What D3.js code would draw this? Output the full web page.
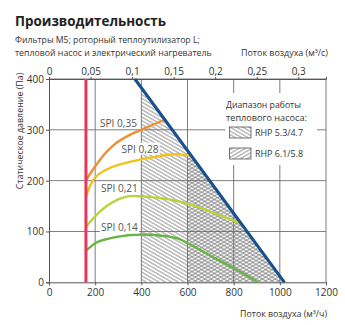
<!DOCTYPE html>
<html>
<head>
<meta charset="utf-8">
<script src="https://cdn.jsdelivr.net/npm/d3@7"></script>
<style>
  html, body { margin: 0; padding: 0; background: #fff; }
  svg { display: block; font-family: "Open Sans", "Noto Sans", sans-serif; }
</style>
</head>
<body>
<svg id="chart" width="345" height="325"></svg>
<script>
// Airflow in m³/h, static pressure in Pa
const flowTicks = [0, 200, 400, 600, 800, 1000, 1200];
const flowTicksPerSecond = [0, 0.05, 0.1, 0.15, 0.2, 0.25, 0.3];
const pressureTicks = [0, 100, 200, 300, 400];

// Maximum capacity line
const maxLine = [[372, 400], [1020, 0]];
// Minimum airflow
const minFlow = 160;
// Heat pump operating ranges start at these airflows
const rhpStart = [400, 600];
const rhpNames = ["RHP 5.3/4.7", "RHP 6.1/5.8"];

const spiNames = ["SPI 0,35", "SPI 0,28", "SPI 0,21", "SPI 0,14"];
const spi035 = [[160,200],[180,215],[200,228],[240,252],[280,270],[350,290],[400,300],[450,310],[502,320]];
const spi028 = [[160,168],[180,192],[200,206],[250,222],[300,231],[350,237],[400,242],[450,246],[500,250],[550,252],[617,249]];
const spi021 = [[160,109],[200,130],[250,150],[300,163],[365,170],[400,169],[480,166],[600,155],[700,139],[750,130],[835,115]];
const spi014 = [[160,62],[200,77],[250,85],[300,90],[400,94],[480,92],[560,86],[600,77],[650,65],[700,52],[800,28],[902,1]];
const spiSeries = [spi035, spi028, spi021, spi014];

const svg = d3.select("#chart");
const m = { left: 49, right: 326, top: 79, bottom: 282.3 };

const x = d3.scaleLinear().domain([0, 1200]).range([m.left, m.right]);
const xs = d3.scaleLinear().domain([0, 1200 / 3600]).range([m.left, m.right]);
const y = d3.scaleLinear().domain([0, 400]).range([m.bottom, m.top]);

const spiColors = ["#ef8f33", "#f4c21a", "#b8d33b", "#68b444"];
const gridColor = "#6e6e6e";
const textColor = "#333";

// Sizes a text so that it spans the given width
function fit(sel, width) {
  const base = +sel.attr("font-size");
  const w = sel.node().getComputedTextLength();
  sel.attr("font-size", (base * width / w).toFixed(2));
  return sel;
}

// Hatch patterns for the operating ranges
const defs = svg.append("defs");
function hatch(id, angle) {
  const p = defs.append("pattern")
    .attr("id", id)
    .attr("patternUnits", "userSpaceOnUse")
    .attr("width", 8).attr("height", 3.2)
    .attr("patternTransform", `rotate(${angle})`);
  p.append("line")
    .attr("x1", 0).attr("x2", 8).attr("y1", 1.6).attr("y2", 1.6)
    .attr("stroke", "#555").attr("stroke-width", 0.7);
}
hatch("hatchA", 30);
hatch("hatchB", -30);

// Titles
fit(svg.append("text").attr("x", 15).attr("y", 26)
  .attr("font-size", 16).attr("font-weight", 700).attr("fill", "#222")
  .text("Производительность"), 151);
fit(svg.append("text").attr("x", 15).attr("y", 43)
  .attr("font-size", 10).attr("fill", textColor)
  .text("Фильтры M5; роторный теплоутилизатор L;"), 185);
fit(svg.append("text").attr("x", 15).attr("y", 55.5)
  .attr("font-size", 10).attr("fill", textColor)
  .text("тепловой насос и электрический нагреватель"), 197);
fit(svg.append("text").attr("x", 328).attr("y", 55.5).attr("text-anchor", "end")
  .attr("font-size", 10).attr("fill", textColor)
  .text("Поток воздуха (м³/с)"), 87);

// Operating range areas, bounded by the maximum capacity line
const maxP = d3.scaleLinear().domain(maxLine.map(d => d[0])).range(maxLine.map(d => d[1]));
const areaGen = d3.line().x(d => x(d[0])).y(d => y(d[1]));
rhpStart.forEach((s, i) => {
  const poly = [[s, 0], [s, maxP(s)], [maxLine[1][0], 0]];
  svg.append("path").attr("d", areaGen(poly) + "Z")
    .attr("fill", i === 0 ? "url(#hatchA)" : "url(#hatchB)");
});

// Grid
const grid = svg.append("g").attr("stroke", gridColor).attr("stroke-width", 0.9);
flowTicks.slice(1).forEach(v => {
  grid.append("line").attr("x1", x(v)).attr("x2", x(v)).attr("y1", y(0)).attr("y2", y(400));
});
pressureTicks.slice(1).forEach(v => {
  grid.append("line").attr("x1", x(0)).attr("x2", x(1200)).attr("y1", y(v)).attr("y2", y(v));
});

// Axes
const axisLeft = svg.append("g").attr("transform", `translate(${m.left},0)`)
  .call(d3.axisLeft(y).tickValues(pressureTicks).tickSize(3).tickPadding(2));
const axisBottom = svg.append("g").attr("transform", `translate(0,${m.bottom})`)
  .call(d3.axisBottom(x).tickValues(flowTicks).tickSize(3).tickPadding(4)
    .tickFormat(d => String(d)));
const axisTop = svg.append("g").attr("transform", `translate(0,${m.top})`)
  .call(d3.axisTop(xs).tickValues(flowTicksPerSecond).tickSize(2).tickPadding(2)
    .tickFormat(d => String(d).replace(".", ",")));
[axisLeft, axisBottom, axisTop].forEach(g => {
  g.select(".domain").attr("stroke", "#555").attr("stroke-width", 1);
  g.selectAll(".tick line").attr("stroke", "#555");
  g.selectAll(".tick text").attr("fill", textColor).attr("font-size", 10)
    .attr("font-family", "'Open Sans', sans-serif");
});
axisLeft.selectAll(".tick text").attr("dy", "0.35em");

fit(svg.append("text").attr("x", 327).attr("y", 317).attr("text-anchor", "end")
  .attr("font-size", 10).attr("fill", textColor)
  .text("Поток воздуха (м³/ч)"), 87);
fit(svg.append("text")
  .attr("transform", `translate(23,131) rotate(-90)`)
  .attr("text-anchor", "middle")
  .attr("font-size", 9.5).attr("fill", textColor)
  .text("Статическое давление (Па)"), 117);

// SPI curves
const curve = d3.line().x(d => x(d[0])).y(d => y(d[1])).curve(d3.curveMonotoneX);
spiSeries.forEach((s, i) => {
  svg.append("path").attr("d", curve(s)).attr("fill", "none")
    .attr("stroke", spiColors[i]).attr("stroke-width", 2.4).attr("stroke-linecap", "round");
});

// Minimum airflow and maximum capacity
svg.append("line").attr("x1", x(minFlow)).attr("x2", x(minFlow)).attr("y1", y(0)).attr("y2", y(400))
  .attr("stroke", "#e6375a").attr("stroke-width", 3);
svg.append("path").attr("d", areaGen(maxLine)).attr("stroke", "#17508c")
  .attr("stroke-width", 3).attr("fill", "none");

// SPI labels
const spiLabelAt = [[301, 313], [394, 262], [305, 184], [305, 107]];
spiNames.forEach((t, i) => {
  const g = svg.append("g").attr("transform", `translate(${x(spiLabelAt[i][0])},${y(spiLabelAt[i][1])})`);
  const txt = fit(g.append("text").attr("text-anchor", "middle").attr("dy", "0.35em")
    .attr("font-size", 9.5).attr("fill", "#555").text(t), 37);
  const bb = txt.node().getBBox();
  g.insert("rect", "text").attr("x", bb.x - 1).attr("y", bb.y + 1)
    .attr("width", bb.width + 2).attr("height", bb.height - 2).attr("fill", "#fff");
});

// Legend
const lg = svg.append("g");
lg.append("rect").attr("x", 225).attr("y", 93).attr("width", 92).attr("height", 72).attr("fill", "#fff");
fit(lg.append("text").attr("x", 226).attr("y", 108).attr("font-size", 9).attr("fill", textColor)
  .text("Диапазон работы"), 75);
fit(lg.append("text").attr("x", 226).attr("y", 120.5).attr("font-size", 9).attr("fill", textColor)
  .text("теплового насоса:"), 81);
rhpNames.forEach((n, i) => {
  const yy = 127 + i * 21;
  lg.append("rect").attr("x", 229.5).attr("y", yy).attr("width", 21.5).attr("height", 11)
    .attr("fill", i === 0 ? "url(#hatchA)" : "url(#hatchB)")
    .attr("stroke", "#555").attr("stroke-width", 0.8);
  fit(lg.append("text").attr("x", 255).attr("y", yy + 9).attr("font-size", 9.2).attr("fill", textColor)
    .text(n), 48);
});
</script>
</body>
</html>
